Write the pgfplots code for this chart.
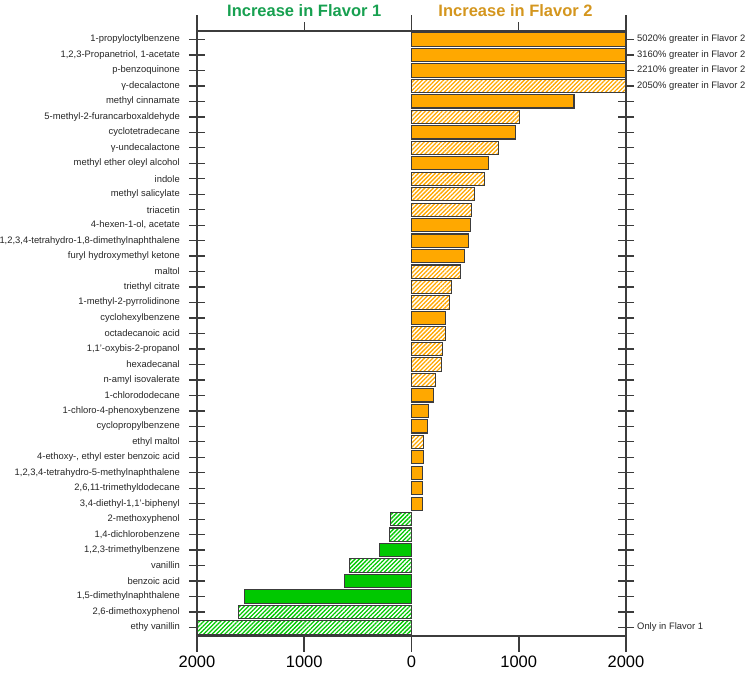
\documentclass[border=0pt]{standalone}
\usepackage{fontspec}
\setmainfont{Liberation Sans}
\usepackage{pgfplots}
\pgfplotsset{compat=1.18}
\usetikzlibrary{patterns.meta}
\definecolor{borange}{HTML}{FFA800}
\definecolor{bgreen}{HTML}{00C800}
\definecolor{edge}{HTML}{3C3C3C}
\definecolor{tgreen}{HTML}{17A050}
\definecolor{tgold}{HTML}{D4961E}
\definecolor{txt}{HTML}{262626}
\pgfplotsset{
  solidbar/.style={xbar, bar width=13.3pt, bar shift=0pt, draw=edge, line width=1.1pt, fill=#1},
  hatchbar/.style={xbar, bar width=13.3pt, bar shift=0pt, draw=edge, line width=1.1pt, fill=white,
     postaction={pattern={Lines[angle=45,distance=3pt,line width=1.3pt]}, pattern color=#1}},
}
\tikzset{rlab/.style={anchor=west, inner sep=0pt, xshift=11pt, font=\fontsize{9.4}{10}\selectfont, text=txt}}
\begin{document}
\begin{tikzpicture}
\begin{axis}[
  scale only axis, width=429pt, height=605pt,
  xmin=-2000, xmax=2000, ymin=-0.55, ymax=38.55,
  xtick={-2000,-1000,0,1000,2000}, xticklabels={2000,1000,0,1000,2000},
  xtick pos=bottom, xtick align=outside,
  ytick={0,...,38}, ytick align=center, ytick pos=both, yticklabel pos=left,
  major tick length=16pt,
  axis line style={edge, line width=1.3pt},
  tick style={edge, line width=1.3pt},
  y tick label style={font=\fontsize{9.4}{10}\selectfont, text=txt, inner sep=0pt, xshift=-9pt},
  x tick label style={font=\fontsize{16.5}{18}\selectfont, text=black},
  /pgf/number format/assume math mode=true,
  clip=false,
  yticklabels={
    ethy vanillin,
    {2,6-dimethoxyphenol},
    {1,5-dimethylnaphthalene},
    benzoic acid,
    vanillin,
    {1,2,3-trimethylbenzene},
    {1,4-dichlorobenzene},
    2-methoxyphenol,
    {3,4-diethyl-1,1'-biphenyl},
    {2,6,11-trimethyldodecane},
    {1,2,3,4-tetrahydro-5-methylnaphthalene},
    {4-ethoxy-, ethyl ester benzoic acid},
    ethyl maltol,
    cyclopropylbenzene,
    1-chloro-4-phenoxybenzene,
    1-chlorododecane,
    n-amyl isovalerate,
    hexadecanal,
    {1,1'-oxybis-2-propanol},
    octadecanoic acid,
    cyclohexylbenzene,
    1-methyl-2-pyrrolidinone,
    triethyl citrate,
    maltol,
    furyl hydroxymethyl ketone,
    {1,2,3,4-tetrahydro-1,8-dimethylnaphthalene},
    {4-hexen-1-ol, acetate},
    triacetin,
    methyl salicylate,
    indole,
    methyl ether oleyl alcohol,
    γ-undecalactone,
    cyclotetradecane,
    5-methyl-2-furancarboxaldehyde,
    methyl cinnamate,
    γ-decalactone,
    p-benzoquinone,
    {1,2,3-Propanetriol, 1-acetate},
    1-propyloctylbenzene},
]
% orange solid
\addplot[solidbar=borange] coordinates {
 (2000,38) (2000,37) (2000,36) (1515,34) (970,32) (718,30) (553,26) (531,25) (497,24)
 (314,20) (205,15) (162,14) (152,13) (108,11) (105,10) (100,9) (99,8)};
% orange hatched
\addplot[hatchbar=borange] coordinates {
 (2000,35) (1010,33) (808,31) (678,29) (584,28) (560,27) (457,23) (376,22) (351,21)
 (314,19) (286,18) (277,17) (227,16) (109,12)};
% green solid
\addplot[solidbar=bgreen] coordinates {
 (-301,5) (-625,3) (-1561,2)};
% green hatched
\addplot[hatchbar=bgreen] coordinates {
 (-195,7) (-202,6) (-576,4) (-1614,1) (-2000,0)};

\draw[edge, line width=1.3pt] (axis cs:-2000,38.55) -- ++(0pt,16pt);
\draw[edge, line width=1.3pt] (axis cs:0,38.55) -- ++(0pt,16pt);
\draw[edge, line width=1.3pt] (axis cs:2000,38.55) -- ++(0pt,16pt);
\draw[edge, line width=1.3pt] (axis cs:-1000,38.55) -- ++(0pt,9pt);
\draw[edge, line width=1.3pt] (axis cs:1000,38.55) -- ++(0pt,9pt);

\node[anchor=base, font=\bfseries\fontsize{16.5}{18}\selectfont, text=tgreen, yshift=14pt] at (axis cs:-1000,38.55) {Increase in Flavor 1};
\node[anchor=base, font=\bfseries\fontsize{16.5}{18}\selectfont, text=tgold, yshift=14pt] at (axis cs:970,38.55) {Increase in Flavor 2};

\node[rlab] at (axis cs:2000,38) {5020\% greater in Flavor 2};
\node[rlab] at (axis cs:2000,37) {3160\% greater in Flavor 2};
\node[rlab] at (axis cs:2000,36) {2210\% greater in Flavor 2};
\node[rlab] at (axis cs:2000,35) {2050\% greater in Flavor 2};
\node[rlab] at (axis cs:2000,0) {Only in Flavor 1};

\coordinate (BL) at (axis cs:-2000,-0.55);
\end{axis}
\draw[edge, line width=1.6pt] (BL) -- ++(0pt,-16pt);
\draw[edge, line width=1.6pt] ([xshift=107.25pt]BL) -- ++(0pt,-16pt);
\draw[edge, line width=1.6pt] ([xshift=214.5pt]BL) -- ++(0pt,-16pt);
\draw[edge, line width=1.6pt] ([xshift=321.75pt]BL) -- ++(0pt,-16pt);
\draw[edge, line width=1.6pt] ([xshift=429pt]BL) -- ++(0pt,-16pt);
\pgfresetboundingbox
\path (BL) ++(-197pt,-49pt) rectangle ++(749pt,685pt);
\end{tikzpicture}
\end{document}
